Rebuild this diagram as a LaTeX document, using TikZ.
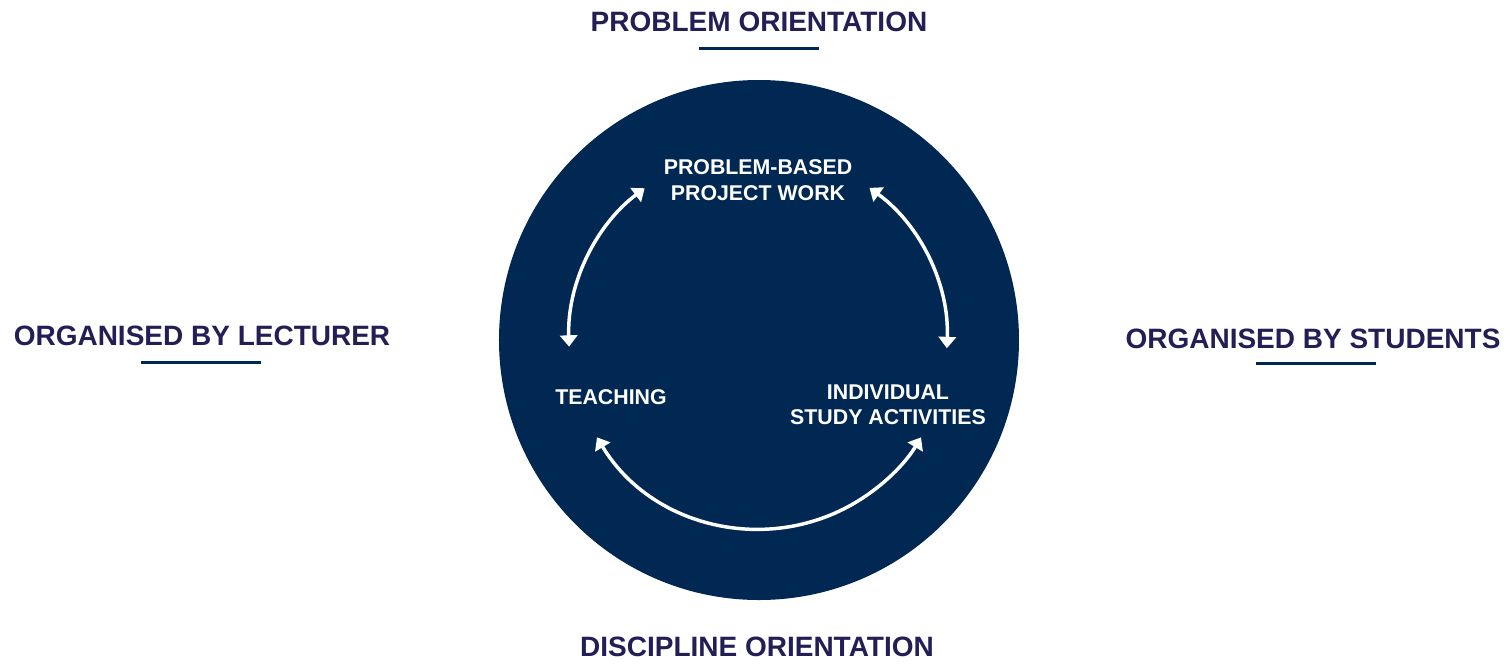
\documentclass[tikz,border=0pt]{standalone}
\usepackage{fontspec}
\setmainfont{Liberation Sans}
\usetikzlibrary{arrows.meta,positioning}
\definecolor{navy}{RGB}{0,40,82}
\definecolor{ink}{RGB}{35,30,86}
\tikzstyle{hub}=[circle, fill=navy, minimum size=390pt, inner sep=0pt]
\tikzstyle{outer}=[text=ink, font=\fontsize{21}{25}\selectfont\bfseries]
\tikzstyle{inner}=[text=white, align=center, font=\fontsize{16}{19}\selectfont\bfseries]
\tikzstyle{bar}=[rectangle, fill=navy, minimum width=90pt, minimum height=2.25pt, inner sep=0pt]
\tikzstyle{cyc}=[white, line width=2.6pt, {Triangle[width=13pt,length=8.5pt]}-{Triangle[width=13pt,length=8.5pt]}]

\begin{document}
\begin{tikzpicture}[x=0.75pt,y=0.75pt]
\useasboundingbox (-759,-329) rectangle (747,340);

\node[hub] (c) at (0,0) {};

\node[outer] (po) at (0,318) {PROBLEM ORIENTATION};
\node[bar] (pob) at (0,292) {};
\node[outer] (lec) at (-557,4) {ORGANISED BY LECTURER};
\node[bar] (lecb) at (-558,-22) {};
\node[outer] (stu) at (554,1) {ORGANISED BY STUDENTS};
\node[bar] (stub) at (557,-23) {};
\node[outer] (do) at (-2,-307) {DISCIPLINE ORIENTATION};

\node[inner] (pbw) at (-1,160) {PROBLEM-BASED\\PROJECT WORK};
\node[inner] (tch) at (-148,-57) {TEACHING};
\node[inner] (isa) at (129,-65) {INDIVIDUAL\\STUDY ACTIVITIES};

\coordinate (al) at (127:190); % ends of the three arcs
\coordinate (ar) at (54:188);
\coordinate (ab) at (211:189);

\draw[cyc] (al) arc[start angle=127, end angle=182, radius=190];
\draw[cyc] (ar) arc[start angle=54, end angle=-2.5, radius=188];
\draw[cyc] (ab) arc[start angle=211, end angle=329, radius=189];

\end{tikzpicture}
\end{document}
